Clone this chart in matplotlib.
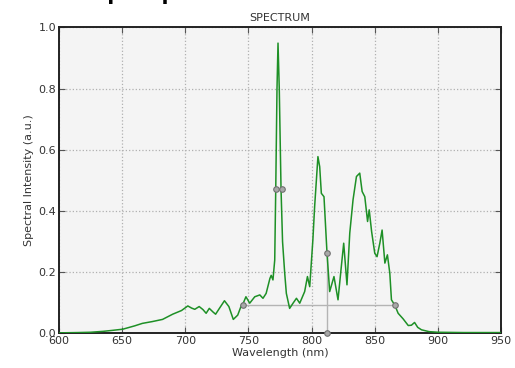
import numpy as np
import matplotlib
matplotlib.use("Agg")
import matplotlib.pyplot as plt

# measured spectrum (nm, normalised intensity)
wavelength = [600, 615, 625, 635, 642, 650.5, 660, 666, 674, 682, 690, 697, 702, 705,
              707.5, 711, 714, 716.5, 719, 722, 724, 727, 731, 734.5, 738, 741.5, 744.5,
              746, 748, 751, 755, 759, 761.5, 764, 767, 768, 769.4, 770.8, 771.6, 772.6,
              773.4, 774.4, 775.8, 777, 778.7, 780, 782.6, 785.3, 788, 790.6, 794.5, 796.7,
              798.5, 801, 802.4, 805, 806.4, 807.7, 809.8, 812.2, 814.3, 817.7, 820.9,
              823.5, 825.4, 828, 830.2, 832.8, 835.5, 838.1, 840, 842.1, 844.3, 845.6,
              847.5, 850, 851.8, 854, 855.8, 858, 860, 861.9, 863.2, 865.8, 868.5, 872.4,
              876.5, 879, 881.5, 884, 887, 893, 900, 920, 950]
intensity = [0.002, 0.003, 0.004, 0.007, 0.010, 0.014, 0.025, 0.033, 0.039, 0.046, 0.063,
             0.075, 0.090, 0.083, 0.079, 0.088, 0.078, 0.066, 0.082, 0.070, 0.063, 0.082,
             0.107, 0.088, 0.046, 0.060, 0.093, 0.100, 0.120, 0.099, 0.120, 0.126, 0.115,
             0.131, 0.180, 0.190, 0.175, 0.240, 0.470, 0.800, 0.949, 0.800, 0.470, 0.300,
             0.197, 0.131, 0.082, 0.099, 0.115, 0.099, 0.137, 0.186, 0.153, 0.306, 0.415,
             0.578, 0.545, 0.458, 0.447, 0.262, 0.137, 0.186, 0.110, 0.218, 0.295, 0.159,
             0.328, 0.437, 0.513, 0.524, 0.464, 0.447, 0.366, 0.404, 0.333, 0.262, 0.251,
             0.295, 0.338, 0.230, 0.257, 0.197, 0.110, 0.093, 0.066, 0.048, 0.026, 0.027,
             0.036, 0.020, 0.012, 0.006, 0.004, 0.003, 0.003]

# half-maximum points of the main peak, band edges and centroid
fwhm_x = [771.6, 776.6]
fwhm_level = 0.471
band_x = [745.7, 865.9]
band_level = 0.093
centroid_x = 812.2
centroid_level = 0.262

xticks = [600, 650, 700, 750, 800, 850, 900, 950]
yticks = [0.0, 0.2, 0.4, 0.6, 0.8, 1.0]

plt.rcParams['font.family'] = ['DejaVu Sans']
fig = plt.figure(figsize=(5.15, 3.68), dpi=100)
ax = fig.add_axes([0.1145, 0.0938, 0.8585, 0.8315])
ax.set_facecolor('#f4f4f4')

mk = dict(marker='o', ms=4, mfc='#a8a8a8', mec='#707070', mew=0.8)
ax.plot(band_x, [band_level, band_level], color='#b4b4b4', lw=1.0, zorder=2)
ax.plot([centroid_x, centroid_x], [0, centroid_level], color='#b4b4b4', lw=1.0, zorder=2)
ax.plot(wavelength, intensity, color='#1e9026', lw=1.1, zorder=3)
ax.plot(band_x, [band_level, band_level], ls='none', zorder=4, **mk)
ax.plot(fwhm_x, [fwhm_level, fwhm_level], ls='none', zorder=4, **mk)
ax.plot([centroid_x, centroid_x], [0, centroid_level], ls='none', zorder=4,
        clip_on=False, **mk)

ax.set_xlim(600, 950)
ax.set_ylim(0, 1.0)
ax.set_xticks(xticks)
ax.set_yticks(yticks)
ax.set_xticklabels([str(t) for t in xticks])
ax.set_yticklabels(['%.1f' % t for t in yticks])
ax.grid(True, ls=':', color='#b0b0b0', lw=0.9)
ax.tick_params(direction='in', length=4, width=0.8, color='#555555',
               top=True, right=True, labelsize=8, labelcolor='#333333', pad=2)
for s in ax.spines.values():
    s.set_linewidth(1.4)
    s.set_color('#222222')

ax.set_title('SPECTRUM', fontsize=8, color='#333333', pad=5)
ax.set_xlabel('Wavelength (nm)', fontsize=8, color='#333333', labelpad=1)
ax.set_ylabel('Spectral Intensity (a.u.)', fontsize=8, color='#333333', labelpad=3)

# page heading sitting above the top edge of the image
fig.text(0.113, 1.0 + 0.5 / 368, 'Sample spectrum measured at the centre(',
         fontsize=14.5, fontweight='bold', va='baseline', ha='left')

fig.savefig('out.png', dpi=100)
